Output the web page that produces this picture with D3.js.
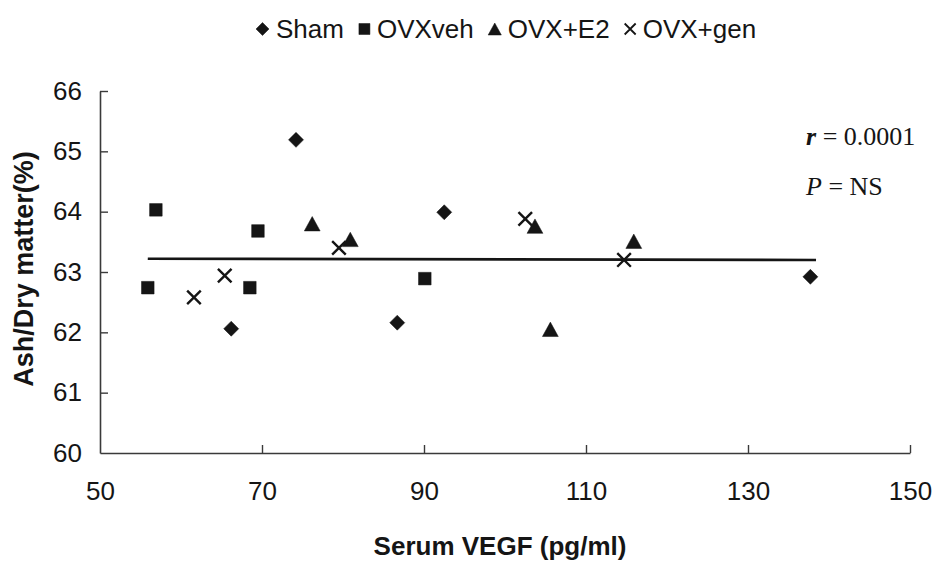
<!DOCTYPE html>
<html><head><meta charset="utf-8">
<script src="https://cdn.jsdelivr.net/npm/d3@7"></script>
<style>
html,body{margin:0;padding:0;background:#fff;}
svg{display:block;}
</style></head>
<body>
<svg id="chart" width="943" height="564"></svg>
<script>
// ---- data ----
const seriesNames = ["Sham", "OVXveh", "OVX+E2", "OVX+gen"];
const shamX = [74.2, 66.2, 92.5, 86.7, 137.7];
const shamY = [65.19, 62.06, 63.99, 62.16, 62.92];
const vehX = [56.9, 55.9, 69.5, 68.5, 90.1];
const vehY = [64.03, 62.74, 63.68, 62.74, 62.89];
const e2X = [76.2, 80.9, 103.7, 115.9, 105.6];
const e2Y = [63.80, 63.54, 63.76, 63.51, 62.05];
const genX = [61.6, 65.4, 79.5, 102.5, 114.7];
const genY = [62.58, 62.94, 63.40, 63.88, 63.20];
const trendX = [55.9, 138.4];
const trendY = [63.22, 63.20];
const xTicks = [50, 70, 90, 110, 130, 150];
const yTicks = [60, 61, 62, 63, 64, 65, 66];
const xTitle = "Serum VEGF (pg/ml)";
const yTitle = "Ash/Dry matter(%)";
const statR = "0.0001";
const statP = "NS";

// ---- drawing ----
const svg = d3.select("#chart");
const ink = "#151515";
const x = d3.scaleLinear().domain([50, 150]).range([100, 910]);
const y = d3.scaleLinear().domain([60, 66]).range([453, 91]);

// marker shapes (centered at 0,0)
const shapes = {
  diamond: s => `M0,${-s}L${s},0L0,${s}L${-s},0Z`,
  square: s => `M${-s},${-s}H${s}V${s}H${-s}Z`,
  triangle: s => `M0,${-s}L${s*1.1},${s}L${-s*1.1},${s}Z`,
  cross: s => `M${-s},${-s}L${s},${s}M${s},${-s}L${-s},${s}`
};
const series = [
  {name: seriesNames[0], xs: shamX, ys: shamY, shape: "diamond", size: 7.5},
  {name: seriesNames[1], xs: vehX, ys: vehY, shape: "square", size: 6.3},
  {name: seriesNames[2], xs: e2X, ys: e2Y, shape: "triangle", size: 7.2},
  {name: seriesNames[3], xs: genX, ys: genY, shape: "cross", size: 6.8}
];

// axes
const fmt = d3.format("d");
const xAxis = d3.axisBottom(x).tickValues(xTicks).tickFormat(fmt).tickSize(-8).tickSizeOuter(0).tickPadding(29);
const yAxis = d3.axisLeft(y).tickValues(yTicks).tickFormat(fmt).tickSize(-8).tickSizeOuter(0).tickPadding(18);
const gx = svg.append("g").attr("transform", `translate(0,${y(60)})`).call(xAxis);
const gy = svg.append("g").attr("transform", `translate(${x(50)},0)`).call(yAxis);
[gx, gy].forEach(g => {
  g.select(".domain").attr("stroke", "#3a3a3a").attr("stroke-width", 1.6);
  g.selectAll(".tick line").attr("stroke", "#3a3a3a").attr("stroke-width", 1.4);
  g.selectAll(".tick text").attr("fill", ink).attr("font-family", "Liberation Sans, Arial, sans-serif").attr("font-size", 26);
});
gy.selectAll(".tick").filter(d => d === 60).select("line").remove();
gx.selectAll(".tick").filter(d => d === 50).select("line").remove();

// axis titles
svg.append("text").attr("x", 500).attr("y", 555).attr("text-anchor", "middle")
  .attr("font-family", "Liberation Sans, Arial, sans-serif").attr("font-weight", "bold")
  .attr("font-size", 26).attr("fill", ink).text(xTitle);
svg.append("text").attr("transform", "translate(33,269) rotate(-90)").attr("text-anchor", "middle")
  .attr("font-family", "Liberation Sans, Arial, sans-serif").attr("font-weight", "bold")
  .attr("font-size", 27).attr("fill", ink).text(yTitle);

// trend line
svg.append("line")
  .attr("x1", x(trendX[0])).attr("y1", y(trendY[0]))
  .attr("x2", x(trendX[1])).attr("y2", y(trendY[1]))
  .attr("stroke", ink).attr("stroke-width", 2.6);

// points
series.forEach(s => {
  const pts = s.xs.map((v, i) => [v, s.ys[i]]);
  svg.append("g").selectAll("path").data(pts).join("path")
    .attr("transform", d => `translate(${x(d[0])},${y(d[1])})`)
    .attr("d", shapes[s.shape](s.size))
    .attr("fill", s.shape === "cross" ? "none" : ink)
    .attr("stroke", ink)
    .attr("stroke-width", s.shape === "cross" ? 2.4 : 0.5);
});

// stats annotation
const st = svg.append("g").attr("font-family", "Liberation Serif, Times New Roman, serif").attr("font-size", 26).attr("fill", ink);
const t1 = st.append("text").attr("x", 806).attr("y", 145);
t1.append("tspan").attr("font-style", "italic").attr("font-weight", "bold").text("r");
t1.append("tspan").text(" = " + statR);
const t2 = st.append("text").attr("x", 806).attr("y", 195);
t2.append("tspan").attr("font-style", "italic").text("P");
t2.append("tspan").text(" = " + statP);

// legend
const lg = svg.append("g").attr("font-family", "Liberation Sans, Arial, sans-serif").attr("font-size", 26).attr("fill", ink);
let cx = 256;
const legendSizes = {diamond: 6.5, square: 5.5, triangle: 6, cross: 5.5};
series.forEach(s => {
  const sz = legendSizes[s.shape];
  lg.append("path").attr("transform", `translate(${cx + sz},29)`)
    .attr("d", shapes[s.shape](sz))
    .attr("fill", s.shape === "cross" ? "none" : ink)
    .attr("stroke", ink).attr("stroke-width", s.shape === "cross" ? 1.8 : 0.5);
  const t = lg.append("text").attr("x", cx + 2 * sz + 7).attr("y", 38).text(s.name);
  cx = cx + 2 * sz + 7 + t.node().getComputedTextLength() + 15;
});
</script>
</body></html>
